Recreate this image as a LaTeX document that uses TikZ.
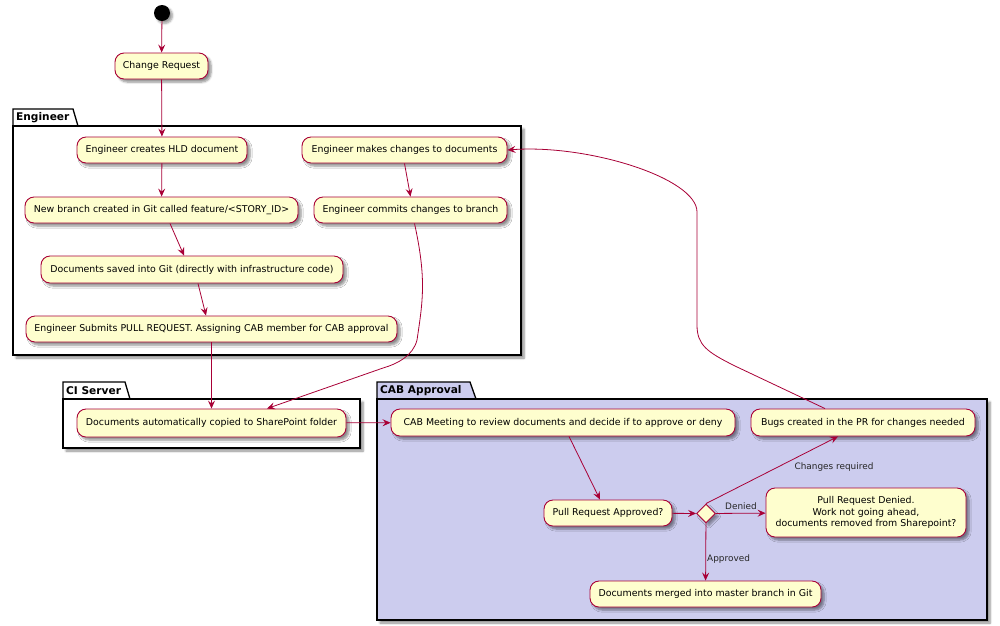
\documentclass[tikz,border=0pt]{standalone}
\usepackage{fontspec}
\setmainfont{DejaVu Sans}
\usetikzlibrary{arrows.meta,shadows.blur,shapes.geometric}
\definecolor{umlred}{HTML}{A80036}
\definecolor{umlfill}{HTML}{FEFECE}
\definecolor{cabfill}{HTML}{CCCCEE}
\begin{document}
\begin{tikzpicture}[x=1pt,y=-1pt,
  act/.style={draw=umlred, fill=umlfill, line width=0.9pt, rounded corners=9pt,
    inner sep=0pt, align=center, font=\fontsize{9.4}{11.5}\selectfont,
    blur shadow={shadow xshift=3pt, shadow yshift=-3pt, shadow blur steps=6, shadow opacity=45}},
  pkgline/.style={draw=black, line width=1.3pt, line join=miter},
  pkgshadow/.style={blur shadow={shadow xshift=3pt, shadow yshift=-3pt, shadow blur steps=6, shadow opacity=45}},
  pkgtitle/.style={font=\fontsize{10.6}{12}\selectfont\bfseries, anchor=west, inner sep=0pt},
  flow/.style={draw=umlred, line width=0.8pt, -{Stealth[length=8pt,width=7pt,inset=3pt]}},
  flowlabel/.style={font=\fontsize{8.9}{10}\selectfont, inner sep=0pt, text=black!85}
]
\useasboundingbox (0,0) rectangle (1000,625);
% ---------- packages ----------
% Engineer
\path[pkgshadow, fill=white] (13,126) rectangle (521,355);
\draw[pkgline, fill=white] (13,126) -- (13,109) -- (73,109) -- (78,126) -- cycle;
\draw[pkgline, fill=white] (13,126) rectangle (521,355);
\node[pkgtitle] (engt) at (16,117.5) {Engineer};
% CI Server
\path[pkgshadow, fill=white] (63,399) rectangle (360,448);
\draw[pkgline, fill=white] (63,399) -- (63,382) -- (125,382) -- (130,399) -- cycle;
\draw[pkgline, fill=white] (63,399) rectangle (360,448);
\node[pkgtitle] (cit) at (66,390.5) {CI Server};
% CAB Approval
\path[pkgshadow, fill=white] (377,399) rectangle (987,620);
\draw[pkgline, fill=cabfill] (377,399) -- (377,382) -- (470,382) -- (476,399) -- cycle;
\draw[pkgline, fill=cabfill] (377,399) rectangle (987,620);
\node[pkgtitle] (cabt) at (380,390.5) {CAB Approval};
% ---------- nodes ----------
\node[circle, fill=black, minimum size=16pt, inner sep=0pt,
  blur shadow={shadow xshift=2.5pt, shadow yshift=-2.5pt, shadow blur steps=5, shadow opacity=40}] (start) at (162,13) {};
\node[act, minimum width=93pt, minimum height=26pt] (cr) at (161.5,66) {Change Request};
\node[act, minimum width=170pt, minimum height=26pt] (hld) at (162,150) {Engineer creates HLD document};
\node[act, minimum width=205pt, minimum height=26pt] (mk) at (404.5,150) {Engineer makes changes to documents};
\node[act, minimum width=273pt, minimum height=26pt] (nb) at (161.5,210) {New branch created in Git called feature/<STORY\_ID>};
\node[act, minimum width=193pt, minimum height=26pt] (cm) at (410.5,210) {Engineer commits changes to branch};
\node[act, minimum width=302pt, minimum height=27pt] (sv) at (192,269.5) {Documents saved into Git (directly with infrastructure code)};
\node[act, minimum width=371pt, minimum height=26pt] (sb) at (211.5,329) {Engineer Submits PULL REQUEST. Assigning CAB member for CAB approval};
\node[act, minimum width=269pt, minimum height=28pt] (dc) at (211.5,423) {Documents automatically copied to SharePoint folder};
\node[act, minimum width=344pt, minimum height=27pt] (cab) at (563,422.5) {CAB Meeting to review documents and decide if to approve or deny};
\node[act, minimum width=224pt, minimum height=27pt] (bugs) at (863,422.5) {Bugs created in the PR for changes needed};
\node[act, minimum width=128pt, minimum height=26pt] (pra) at (608,513) {Pull Request Approved?};
\node[diamond, draw=umlred, fill=umlfill, line width=0.9pt, minimum width=19pt, minimum height=19pt, inner sep=0pt,
  blur shadow={shadow xshift=3pt, shadow yshift=-3pt, shadow blur steps=5, shadow opacity=40}] (dia) at (706,513.5) {};
\node[act, minimum width=200pt, minimum height=49pt] (den) at (866,512.5) {Pull Request Denied.\\Work not going ahead,\\documents removed from Sharepoint?};
\node[act, minimum width=231pt, minimum height=26pt] (mrg) at (705.5,594) {Documents merged into master branch in Git};
% ---------- connectors ----------
\draw[flow] (start) -- (cr);
\draw[flow] (cr) -- (hld);
\draw[flow] (hld) -- (nb);
\draw[flow] ([xshift=8.5pt]nb.south) -- ([xshift=-8pt]sv.north);
\draw[flow] ([xshift=6pt]sv.south) -- ([xshift=-5.5pt]sb.north);
\draw[flow] (sb) -- (dc);
\draw[flow] (mk.south) -- (cm.north);
\draw[flow] ([xshift=4pt]cm.south) .. controls +(12,55) and +(6,-40) .. (417,340)
  .. controls +(-4,16) and +(14,-4) .. (383,368) -- ([xshift=55.5pt]dc.north);
\draw[flow] (dc) -- (cab);
\draw[flow] ([xshift=6pt]cab.south) -- ([xshift=-8pt]pra.north);
\draw[flow] (pra) -- (dia);
\draw[flow] (dia) -- (den);
\draw[flow] (dia) -- (mrg);
\draw[flow] (dia.north) -- ([xshift=-25pt]bugs.south);
\draw[flow] ([xshift=-38pt]bugs.north) -- (735,366)
  .. controls +(-28,-14) and +(0,20) .. (697,325) -- (697,212)
  .. controls +(0,-34) and +(80,-6) .. (mk.east);
% ---------- labels ----------
\node[flowlabel] (lden) at (741,506) {Denied};
\node[flowlabel, anchor=west] (lapp) at (707,559) {Approved};
\node[flowlabel] (lchg) at (834,467) {Changes required};
\end{tikzpicture}
\end{document}
